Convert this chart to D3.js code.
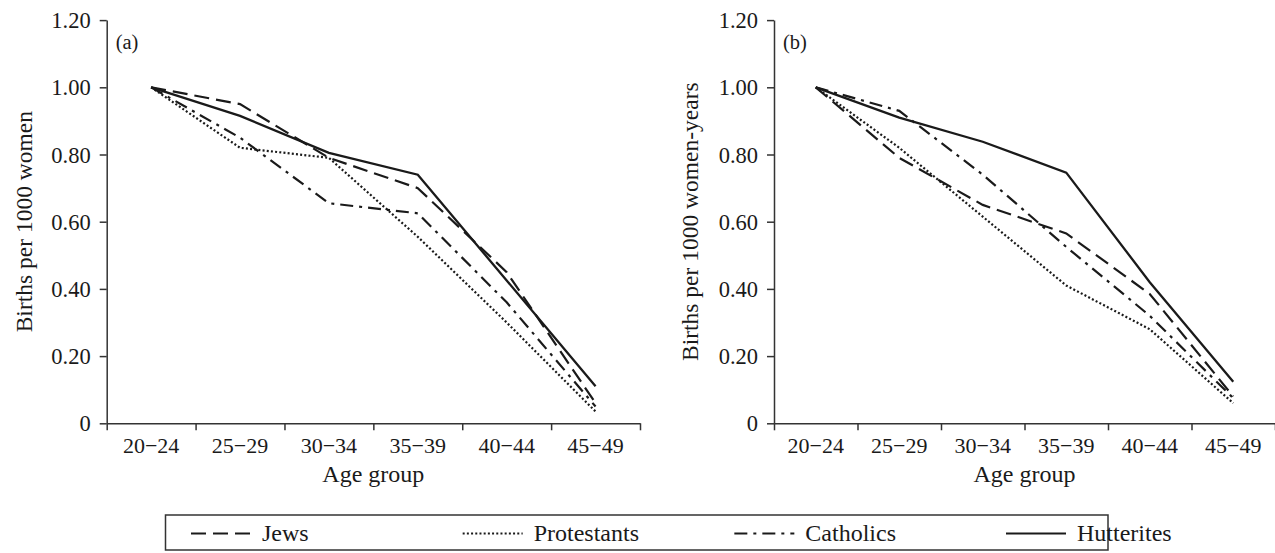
<!DOCTYPE html>
<html>
<head>
<meta charset="utf-8">
<script src="https://cdn.jsdelivr.net/npm/d3@7"></script>
<style>
  html, body { margin: 0; padding: 0; background: #fff; }
  svg { display: block; }
  text { font-family: "Liberation Serif", "Times New Roman", serif; fill: #1a1a1a; }
</style>
</head>
<body>
<svg id="chart" width="1275" height="553"></svg>
<script>
// ---- data ----
const categories = ["20\u221224", "25\u221229", "30\u221234", "35\u221239", "40\u221244", "45\u221249"];
const seriesNames = ["Jews", "Protestants", "Catholics", "Hutterites"];
const yTickValues = [0, 0.2, 0.4, 0.6, 0.8, 1.0, 1.2];
const yTickLabels = ["0", "0.20", "0.40", "0.60", "0.80", "1.00", "1.20"];

// panel (a): births per 1000 women
const jewsA        = [1.00, 0.95, 0.79, 0.70, 0.45, 0.06];
const protestantsA = [1.00, 0.82, 0.79, 0.555, 0.30, 0.035];
const catholicsA   = [1.00, 0.85, 0.655, 0.625, 0.36, 0.05];
const hutteritesA  = [1.00, 0.915, 0.805, 0.74, 0.425, 0.11];

// panel (b): births per 1000 women-years
const jewsB        = [1.00, 0.79, 0.65, 0.565, 0.385, 0.08];
const protestantsB = [1.00, 0.82, 0.615, 0.41, 0.28, 0.06];
const catholicsB   = [1.00, 0.93, 0.74, 0.525, 0.32, 0.075];
const hutteritesB  = [1.00, 0.91, 0.838, 0.746, 0.42, 0.124];

// ---- styles ----
const dashes = { "Jews": "15,7", "Protestants": "2,2.2", "Catholics": "13,6,3,6", "Hutterites": null };
const ink = "#1a1a1a";

const svg = d3.select("#chart");

const panels = [
  { label: "(a)", ytitle: "Births per 1000 women",
    x0: 106.7, x1: 640, titleX: 32,
    data: [jewsA, protestantsA, catholicsA, hutteritesA] },
  { label: "(b)", ytitle: "Births per 1000 women-years",
    x0: 774, x1: 1275, titleX: 698,
    data: [jewsB, protestantsB, catholicsB, hutteritesB] }
];

const yTop = 20.1, yBottom = 423.3;

panels.forEach(p => {
  const g = svg.append("g");
  const x = d3.scaleBand().domain(categories).range([p.x0, p.x1]).padding(0);
  const xIdx = d3.scaleLinear().domain([0, categories.length]).range([p.x0, p.x1]);
  const y = d3.scaleLinear().domain([0, 1.2]).range([yBottom, yTop]);

  // y axis
  const ya = g.append("g").attr("transform", `translate(${p.x0},0)`)
    .call(d3.axisLeft(y).tickValues(yTickValues)
      .tickFormat((d, i) => yTickLabels[i]).tickSize(7).tickPadding(9).tickSizeOuter(0));
  ya.selectAll("text").attr("font-size", 22.5).attr("dy", "0.34em")
    .style("font-family", '"Liberation Serif", "Times New Roman", serif').attr("fill", ink);

  // x axis: boundary ticks
  const xa = g.append("g").attr("transform", `translate(0,${yBottom})`)
    .call(d3.axisBottom(xIdx).tickValues(d3.range(categories.length + 1))
      .tickFormat("").tickSize(7).tickSizeOuter(0));
  // x axis: category labels
  const xl = g.append("g").attr("transform", `translate(0,${yBottom})`)
    .call(d3.axisBottom(x).tickSize(0).tickSizeOuter(0));
  xl.select(".domain").remove();
  xl.selectAll("text").attr("font-size", 22).attr("y", 30).attr("dy", 0)
    .style("font-family", '"Liberation Serif", "Times New Roman", serif').attr("fill", ink);

  [ya, xa].forEach(a => {
    a.selectAll(".domain").attr("stroke", "#333").attr("stroke-width", 1.5);
    a.selectAll(".tick line").attr("stroke", "#333").attr("stroke-width", 1.5);
  });

  // titles
  g.append("text").attr("x", (p.x0 + p.x1) / 2).attr("y", 482)
    .attr("text-anchor", "middle").attr("font-size", 24).text("Age group");
  g.append("text")
    .attr("transform", `translate(${p.titleX},${(yTop + yBottom) / 2}) rotate(-90)`)
    .attr("text-anchor", "middle").attr("font-size", 23.5).text(p.ytitle);
  g.append("text").attr("x", p.x0 + 9).attr("y", 49).attr("font-size", 20.5).text(p.label);

  // lines
  const line = d3.line()
    .x((d, i) => x(categories[i]) + x.bandwidth() / 2)
    .y(d => y(d));
  seriesNames.forEach((name, si) => {
    g.append("path").datum(p.data[si])
      .attr("d", line)
      .attr("fill", "none")
      .attr("stroke", ink)
      .attr("stroke-width", name === "Hutterites" ? 2.3 : 2.2)
      .attr("stroke-linejoin", "miter")
      .attr("stroke-dasharray", dashes[name]);
  });
});

// ---- legend ----
const legendX0 = 165.5, legendX1 = 1108, legendY0 = 515, legendY1 = 550;
svg.append("rect").attr("x", legendX0).attr("y", legendY0)
  .attr("width", legendX1 - legendX0).attr("height", legendY1 - legendY0)
  .attr("fill", "none").attr("stroke", "#333").attr("stroke-width", 1.5);

const legendStarts = d3.scalePoint().domain(seriesNames).range([191, 1006]);
const lg = svg.append("g").selectAll("g").data(seriesNames).join("g")
  .attr("transform", d => `translate(${legendStarts(d)},0)`);
lg.append("line").attr("x1", 0).attr("x2", 60).attr("y1", 533.5).attr("y2", 533.5)
  .attr("stroke", ink).attr("stroke-width", 2.2)
  .attr("stroke-dasharray", d => dashes[d]);
lg.append("text").attr("x", 71).attr("y", 541).attr("font-size", 24).text(d => d);
</script>
</body>
</html>
